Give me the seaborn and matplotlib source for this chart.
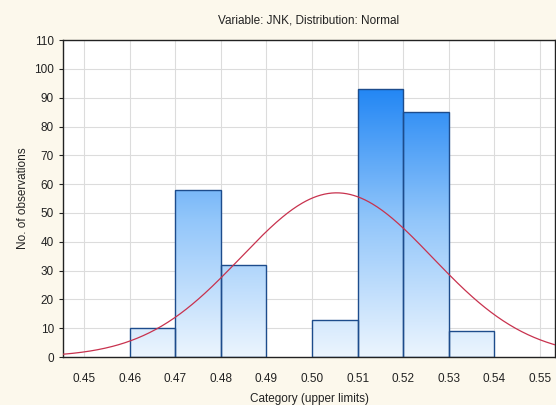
import numpy as np
import pandas as pd
import matplotlib
matplotlib.use("Agg")
import matplotlib.pyplot as plt
import seaborn as sns
from matplotlib.colors import LinearSegmentedColormap

# Data
upper_limits = [0.47, 0.48, 0.49, 0.50, 0.51, 0.52, 0.53, 0.54]
counts = [10, 58, 32, 0, 13, 93, 85, 9]
bin_edges = [0.46, 0.47, 0.48, 0.49, 0.50, 0.51, 0.52, 0.53, 0.54]
x_ticks = [0.45, 0.46, 0.47, 0.48, 0.49, 0.50, 0.51, 0.52, 0.53, 0.54, 0.55]
y_ticks = list(range(0, 111, 10))

mids = [(a + b) / 2 for a, b in zip(bin_edges[:-1], bin_edges[1:])]
df = pd.DataFrame({"value": mids, "count": counts})

sns.set_style("white")
plt.rcParams['font.family'] = ['Liberation Sans', 'DejaVu Sans']

fig = plt.figure(figsize=(5.56, 4.05), dpi=100, facecolor="#fcf8ec")
ax = fig.add_axes([0.1133, 0.1185, 0.885, 0.7825])
ax.set_facecolor("white")

sns.histplot(data=df, x="value", weights="count", bins=bin_edges, ax=ax,
             stat="count", element="bars", fill=True,
             color="#4a9ef5", edgecolor="#1d4c8c", linewidth=1.0, alpha=1)

xmin, xmax = 0.4454, 0.5533
ymax = 110
ax.set_xlim(xmin, xmax)
ax.set_ylim(0, ymax)

cmap = LinearSegmentedColormap.from_list("g", ["#ecf5fe", "#92c6fa", "#1e84f4"])
grad = np.linspace(0, 1, 256).reshape(-1, 1)
for p in list(ax.patches):
    h = p.get_height()
    if h <= 0:
        p.set_visible(False)
        continue
    p.set_facecolor("none")
    im = ax.imshow(grad, extent=[xmin, xmax, 0, 95], origin="lower", aspect="auto",
                   cmap=cmap, zorder=p.get_zorder() - 0.1)
    im.set_clip_path(p)
    p.set_zorder(p.get_zorder() + 0.1)
ax.set_xlim(xmin, xmax)
ax.set_ylim(0, ymax)

# Normal fit curve
vals = np.array(mids)
w = np.array(counts, dtype=float)
n = w.sum()
mu = (vals * w).sum() / n
sd = np.sqrt(((vals - mu) ** 2 * w).sum() / n)
bw = 0.01
xs = np.linspace(xmin, xmax, 400)
ys = n * bw / (sd * np.sqrt(2 * np.pi)) * np.exp(-0.5 * ((xs - mu) / sd) ** 2)
sns.lineplot(x=xs, y=ys, ax=ax, color="#c8324e", linewidth=0.9, zorder=5)

ax.set_xticks(x_ticks)
ax.set_xticklabels([f"{t:.2f}" for t in x_ticks])
ax.set_yticks(y_ticks)
ax.grid(True, color="#dcdcdc", linewidth=0.8)
ax.set_axisbelow(True)
for s in ax.spines.values():
    s.set_color("#222222")
    s.set_linewidth(1.0)
ax.tick_params(axis="y", labelsize=8.5, colors="#222222", length=3, direction="out", left=True)
ax.tick_params(axis="x", labelsize=8.5, colors="#222222", length=0, pad=11.5, bottom=True)

ax.set_xlabel("Category (upper limits)", fontsize=8.5, color="#222222", labelpad=5.5)
ax.set_ylabel("No. of observations", fontsize=8.5, color="#222222", labelpad=4)
ax.set_title("Variable: JNK, Distribution: Normal", fontsize=8.5, color="#222222", pad=12)

fig.savefig("out.png", dpi=100, facecolor=fig.get_facecolor())
